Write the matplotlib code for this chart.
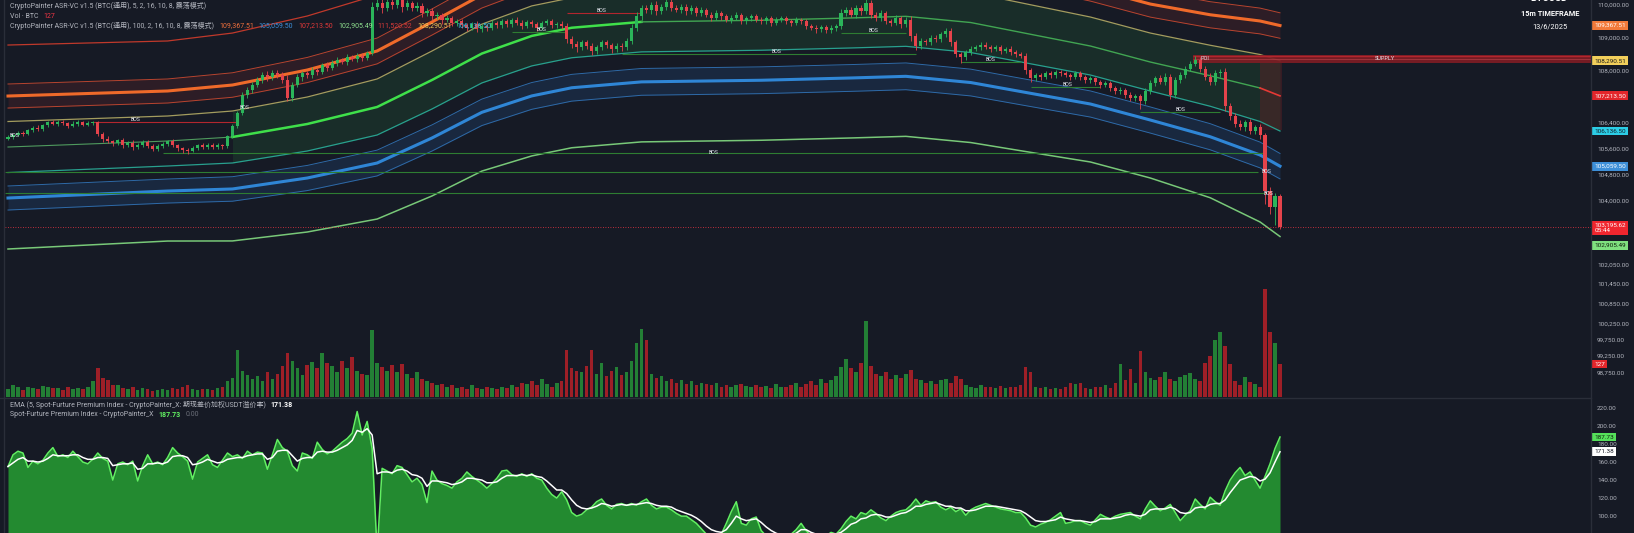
import numpy as np
import matplotlib
matplotlib.use("Agg")
import matplotlib.pyplot as plt
from matplotlib.lines import Line2D
from matplotlib.patches import Rectangle

plt.rcParams['font.family'] = ['Roboto', 'Noto Sans CJK SC', 'DejaVu Sans']

# ---------------------------------------------------------------- data
# BTCUSD 15m closes (candle open = previous close)
first_open = 105900
closes = [
    105950, 106020, 106080, 106050, 106160, 106230, 106200, 106310, 106400, 106350,
    106420, 106380, 106300, 106360, 106410, 106330, 106380, 106400, 106060, 105900,
    105820, 105760, 105850, 105700, 105780, 105640, 105720, 105810, 105690, 105600,
    105680, 105750, 105820, 105700, 105620, 105560, 105540, 105620, 105700, 105660,
    105720, 105650, 105700, 105680, 105980, 106280, 106700, 107250, 107380, 107550,
    107700, 107850, 107780, 107920, 107850, 107700, 107150, 107550, 107780, 107900,
    107850, 108000, 107950, 108150, 108080, 108230, 108300, 108250, 108400, 108350,
    108450, 108380, 108520, 109950, 110050, 109900, 110100, 110000, 110150, 109950,
    110050, 109900, 109980, 109750, 109820, 109650, 109700, 109550, 109600, 109450,
    109500, 109380, 109300, 109420, 109250, 109350, 109300, 109450, 109380, 109500,
    109400, 109550, 109450, 109350, 109480, 109400, 109300, 109450, 109520, 109380,
    109420, 109350, 108950, 108800, 108700, 108850, 108750, 108600, 108700, 108850,
    108780, 108650, 108750, 108700, 108900, 109300, 109650, 109900, 109850, 110000,
    109800, 109950, 110100, 109900, 109850, 109950, 109800, 109900, 109750, 109850,
    109700, 109600, 109750, 109650, 109550, 109600, 109700, 109500, 109600, 109650,
    109550, 109500, 109600, 109450, 109550, 109600, 109500, 109450, 109550, 109500,
    109350, 109300, 109250, 109320, 109230, 109280, 109350, 109750, 109850, 109700,
    109900, 109800, 110050, 109700, 109600, 109750, 109500, 109450, 109600, 109400,
    109550, 109050, 108750, 108900, 108850, 109000, 108950, 109100, 109200, 108850,
    108500, 108400, 108550, 108650, 108700, 108780, 108720, 108650, 108700, 108600,
    108650, 108550, 108500, 108450, 108000, 107750, 107850, 107800, 107900, 107850,
    107950, 107900, 107850, 107800, 107900, 107800, 107700, 107750, 107650, 107550,
    107600, 107450, 107350, 107400, 107250, 107150, 107200, 107050, 107350, 107600,
    107750, 107650, 107800, 107250, 107700, 107850, 108050, 108200, 108300, 108050,
    107800, 107650, 107900, 107950, 106900, 106600, 106350, 106250, 106400, 106150,
    106250, 106000, 104300, 103800, 104150, 103195.62,
]
# wick lengths above / below the body, in USD
wick_up = [
    60, 40, 70, 50, 40, 60, 80, 50, 40, 70,
    50, 60, 40, 80, 50, 40, 60, 50, 40, 60,
    70, 50, 40, 60, 50, 70, 40, 50, 60, 40,
    50, 60, 40, 70, 50, 40, 60, 50, 40, 60,
    50, 40, 60, 50, 40, 80, 60, 90, 120, 80,
    100, 90, 120, 80, 100, 90, 150, 80, 100, 70,
    90, 110, 70, 80, 100, 70, 90, 80, 100, 70,
    80, 90, 60, 150, 120, 200, 100, 150, 120, 90,
    100, 80, 120, 90, 70, 100, 80, 60, 90, 70,
    60, 80, 70, 50, 90, 60, 70, 80, 50, 60,
    80, 60, 70, 90, 50, 60, 80, 70, 50, 60,
    70, 80, 90, 100, 80, 70, 90, 80, 60, 70,
    80, 60, 70, 90, 80, 100, 120, 90, 110, 100,
    120, 90, 100, 80, 110, 90, 70, 100, 80, 90,
    70, 90, 80, 60, 70, 90, 80, 60, 70, 80,
    60, 80, 70, 60, 90, 70, 60, 80, 70, 60,
    70, 60, 80, 70, 60, 90, 70, 120, 100, 90,
    110, 90, 130, 100, 80, 90, 70, 80, 100, 70,
    90, 100, 80, 90, 70, 80, 90, 70, 100, 80,
    90, 70, 80, 90, 60, 80, 70, 60, 80, 70,
    60, 80, 70, 60, 90, 80, 70, 60, 80, 70,
    60, 70, 80, 60, 70, 80, 60, 70, 50, 60,
    70, 60, 80, 70, 60, 80, 70, 60, 90, 100,
    80, 90, 100, 80, 90, 100, 80, 90, 120, 100,
    90, 100, 110, 80, 120, 100, 90, 110, 80, 90,
    80, 100, 90, 120, 100, 60,
]
wick_dn = [
    50, 70, 40, 60, 50, 40, 70, 50, 60, 40,
    60, 50, 70, 40, 60, 50, 40, 70, 80, 90,
    60, 70, 50, 80, 60, 90, 50, 60, 70, 80,
    60, 50, 70, 60, 80, 90, 100, 60, 50, 70,
    60, 70, 50, 80, 60, 50, 60, 80, 100, 70,
    80, 90, 120, 70, 100, 80, 80, 90, 70, 100,
    80, 90, 100, 70, 90, 80, 100, 70, 90, 80,
    90, 100, 80, 60, 120, 150, 100, 130, 110, 160,
    120, 100, 90, 110, 80, 100, 90, 120, 80, 100,
    90, 80, 100, 70, 90, 80, 100, 70, 90, 80,
    70, 90, 80, 100, 70, 90, 100, 80, 70, 90,
    80, 100, 120, 110, 130, 90, 100, 120, 90, 80,
    100, 120, 90, 100, 80, 100, 90, 110, 100, 120,
    100, 90, 110, 100, 80, 90, 110, 80, 100, 90,
    80, 90, 70, 100, 80, 90, 70, 100, 80, 90,
    70, 90, 80, 100, 70, 80, 90, 100, 70, 80,
    90, 80, 100, 70, 90, 80, 70, 90, 100, 80,
    90, 100, 80, 100, 90, 80, 100, 90, 80, 100,
    90, 150, 120, 100, 90, 80, 100, 90, 80, 120,
    100, 180, 90, 80, 70, 90, 80, 100, 70, 90,
    80, 90, 100, 80, 110, 120, 80, 90, 70, 80,
    90, 80, 70, 90, 80, 100, 90, 80, 100, 90,
    80, 100, 90, 80, 100, 90, 80, 250, 90, 80,
    90, 80, 100, 120, 90, 80, 100, 90, 80, 100,
    110, 100, 90, 120, 140, 120, 100, 90, 110, 100,
    90, 120, 400, 200, 550, 60,
]
volumes = [
    30, 45, 38, 28, 40, 35, 30, 42, 38, 33,
    35, 28, 40, 32, 36, 30, 38, 60, 110, 72,
    65, 48, 45, 35, 30, 38, 28, 34, 30, 25,
    28, 32, 26, 35, 30, 40, 45, 30, 28, 32,
    30, 28, 35, 40, 60, 75, 180, 100, 85, 70,
    80, 60, 95, 70, 90, 120, 170, 140, 110, 85,
    125, 135, 110, 170, 130, 120, 95, 140, 110, 155,
    100, 90, 85, 258, 130, 115, 100, 125, 95, 128,
    90, 75, 95, 70, 60, 55, 45, 50, 40, 45,
    35, 40, 30, 45, 35, 30, 40, 35, 30, 38,
    35, 45, 40, 55, 50, 60, 45, 70, 50, 40,
    55, 60, 180, 110, 100, 95, 120, 180, 90, 130,
    80, 100, 115, 85, 95, 140, 208, 262, 220, 90,
    75, 80, 60, 70, 55, 65, 50, 60, 45, 55,
    50, 45, 55, 40, 48, 38, 45, 50, 42, 40,
    45, 38, 42, 35, 50, 40, 38, 45, 55, 40,
    50, 60, 45, 70, 55, 65, 80, 115, 145, 110,
    95, 130, 292, 120, 90, 80, 95, 70, 85, 75,
    90, 105, 70, 65, 55, 60, 50, 65, 70, 55,
    80, 70, 45, 40, 35, 45, 38, 40, 35, 42,
    35, 40, 38, 45, 115, 95, 40, 35, 38, 32,
    35, 30, 40, 55, 50, 55, 35, 30, 40, 38,
    45, 35, 55, 127, 65, 108, 55, 177, 96, 75,
    65, 77, 96, 70, 60, 77, 85, 92, 70, 60,
    130, 158, 220, 250, 196, 127, 60, 46, 77, 58,
    50, 40, 416, 250, 208, 127,
]
# Spot-future premium index and its 5-bar EMA
premium = [
    155, 168, 172, 170, 154, 161, 158, 162, 170, 176,
    166, 168, 165, 172, 166, 160, 158, 163, 170, 164,
    161, 140, 158, 160, 157, 161, 139, 156, 168, 158,
    160, 157, 165, 176, 170, 166, 161, 141, 160, 164,
    168, 157, 154, 162, 170, 166, 168, 164, 172, 168,
    171, 170, 152, 168, 185, 176, 172, 156, 150, 170,
    168, 164, 182, 174, 169, 172, 177, 182, 186, 192,
    216, 190, 205, 175, 60, 153, 150, 147, 156, 154,
    146, 138, 142, 135, 115, 150, 140, 136, 134, 131,
    138, 142, 149, 144, 140, 136, 131, 136, 142, 150,
    151, 146, 144, 147, 144, 147, 142, 140, 131, 124,
    120, 127, 118, 104, 100, 102, 107, 110, 116, 119,
    112, 108, 113, 114, 112, 114, 112, 116, 119, 112,
    108, 110, 110, 107, 103, 100, 100, 96, 92, 86,
    80, 77, 78, 80, 92, 105, 116, 92, 90, 97,
    99, 84, 78, 75, 76, 74, 78, 80, 85, 92,
    84, 78, 76, 80, 78, 82, 80, 86, 94, 100,
    97, 104, 102, 107, 103, 98, 95, 100, 104, 106,
    107, 112, 119, 112, 117, 115, 116, 110, 107, 110,
    105, 108, 101, 107, 110, 112, 114, 112, 110, 108,
    107, 106, 104, 104, 98, 90, 88, 91, 93, 96,
    100, 104, 92, 93, 95, 95, 92, 90, 96, 102,
    99, 97, 100, 102, 103, 104, 100, 97, 108, 117,
    111, 106, 109, 113, 104, 95, 101, 106, 119, 113,
    108, 121, 116, 112, 128, 140, 148, 154, 145, 149,
    140, 131, 144, 158, 175, 187.73,
]
premium_ema = [
    155, 159, 163, 165, 161, 161, 160, 161, 164, 168,
    167, 167, 167, 168, 168, 165, 163, 163, 165, 165,
    164, 156, 157, 158, 158, 159, 152, 153, 158, 158,
    159, 158, 160, 166, 167, 167, 165, 157, 158, 160,
    163, 161, 159, 160, 163, 164, 165, 165, 167, 168,
    169, 169, 163, 165, 172, 173, 173, 167, 161, 164,
    165, 165, 171, 172, 171, 171, 173, 176, 179, 184,
    195, 193, 197, 190, 147, 149, 149, 148, 151, 152,
    150, 146, 145, 142, 133, 139, 139, 138, 137, 135,
    136, 138, 142, 142, 141, 140, 137, 137, 138, 142,
    145, 145, 145, 146, 145, 146, 144, 143, 139, 134,
    129, 129, 125, 118, 112, 109, 108, 109, 111, 114,
    113, 111, 112, 113, 112, 113, 113, 114, 115, 114,
    112, 111, 111, 110, 107, 105, 103, 101, 98, 94,
    89, 85, 83, 82, 85, 92, 100, 97, 95, 96,
    97, 93, 88, 84, 81, 79, 79, 79, 81, 85,
    85, 82, 80, 80, 79, 80, 80, 82, 86, 91,
    93, 97, 98, 101, 102, 101, 99, 99, 101, 103,
    104, 107, 111, 111, 113, 114, 115, 113, 111, 111,
    109, 109, 106, 106, 107, 109, 111, 111, 111, 110,
    109, 108, 107, 106, 103, 99, 95, 94, 94, 95,
    96, 99, 97, 96, 95, 95, 94, 93, 94, 97,
    97, 97, 98, 99, 101, 102, 101, 100, 102, 107,
    108, 108, 108, 110, 108, 104, 103, 104, 109, 110,
    110, 113, 114, 114, 118, 126, 133, 140, 142, 144,
    143, 139, 141, 148, 160, 171.38,
]

# ASR-VC (100) band lines, sampled at these candle indices
band_idx = [0, 32, 45, 60, 74, 85, 95, 105, 113, 127, 151, 169, 180, 193, 205, 217, 229, 241, 251, 255]
band_top = [108771, 108895, 109138, 109660, 110305, 111252, 112110, 112726, 112976, 113156,
            113206, 113276, 113326, 113136, 112716, 112292, 111802, 111566, 111559, 111520.52]
band_orange_hi = [107577, 107731, 107921, 108391, 108984, 109876, 110715, 111298, 111548, 111728,
                  111778, 111848, 111898, 111708, 111313, 110916, 110426, 110098, 109902, 109758]
band_orange = [107209, 107363, 107546, 108006, 108589, 109476, 110310, 110888, 111138, 111318,
               111368, 111438, 111488, 111298, 110908, 110516, 110026, 109698, 109507, 109367.51]
band_orange_lo = [106841, 106995, 107171, 107621, 108194, 109076, 109905, 110478, 110728, 110908,
                  110958, 111028, 111078, 110888, 110503, 110116, 109626, 109298, 109112, 108978]
band_yellow = [106428, 106597, 106750, 107179, 107731, 108588, 109410, 109969, 110219, 110399,
               110449, 110519, 110569, 110379, 110004, 109628, 109138, 108764, 108481, 108290.51]
band_mid = [105647, 105831, 105954, 106352, 106873, 107700, 108510, 109050, 109300, 109480,
            109530, 109600, 109650, 109460, 109100, 108740, 108250, 107830, 107455, 107213.50]
band_cyan = [104866, 105065, 105158, 105525, 106015, 106812, 107610, 108131, 108381, 108561,
             108611, 108681, 108731, 108541, 108196, 107852, 107362, 106896, 106429, 106136.50]
band_blue_hi = [104453, 104667, 104737, 105083, 105552, 106324, 107115, 107622, 107872, 108052,
                108102, 108172, 108222, 108032, 107697, 107364, 106874, 106362, 105798, 105450]
band_blue = [104085, 104299, 104362, 104698, 105157, 105924, 106710, 107212, 107462, 107642,
             107692, 107762, 107812, 107622, 107292, 106964, 106474, 105962, 105403, 105059.50]
band_blue_lo = [103717, 103931, 103987, 104313, 104762, 105524, 106305, 106802, 107052, 107232,
                107282, 107352, 107402, 107212, 106887, 106564, 106074, 105562, 105008, 104670]
band_bottom = [102523, 102767, 102770, 103044, 103441, 104148, 104910, 105374, 105624, 105804,
               105854, 105924, 105974, 105784, 105484, 105188, 104698, 104094, 103351, 102905.49]

# break-of-structure segments: level, from, to, label position
bos_level = [106413, 109752, 109170, 108496, 109140, 108250, 107485, 106720]
bos_from = [17, 112, 101, 123, 167, 191, 205, 227]
bos_to = [46, 127, 112, 182, 180, 203, 219, 243]
bos_label = [25.5, 119, 107, 154, 173.5, 197, 212.5, 235]
bos_bear = [True, True, False, False, False, False, False, False]
# long structure levels that were broken by the final sell-off
swing_level = [105464, 104882, 104238]
swing_from = [31, -1, -1]
swing_to = [251.5, 250.5, 252]
swing_label = [141.5, 252.4, 252.8]
# standalone labels
bos_extra_idx = [0.4, 46.5]
bos_extra_price = [105990, 106843]

supply_top, supply_bottom, supply_start = 108480, 108220, 237.5
premium_zone = (251, 255.5, 106168, 108220)

price_ticks = [110000, 109000, 108000, 106400, 105600, 104800, 104000,
               102050, 101450, 100850, 100250, 99750, 99250, 98750]
premium_ticks = [220, 200, 180, 160, 140, 120, 100]

# ---------------------------------------------------------------- layout
W, H = 1634, 533
BG = '#161a25'
TXT = '#b2b5be'
SEP = '#2a2e39'
UP, DN = '#2bb55a', '#e5434b'
VOL_UP, VOL_DN = '#237f35', '#9e1f27'
PX_LEFT, PX_RIGHT, PX_SPLIT = 5, 1591, 397
PX_FIRST, PX_LAST = 8, 1280

fig = plt.figure(figsize=(W / 100, H / 100), dpi=100, facecolor=BG)


def box(x0, y0, x1, y1):
    return [x0 / W, 1 - y1 / H, (x1 - x0) / W, (y1 - y0) / H]


ax = fig.add_axes(box(PX_LEFT, 0, PX_RIGHT, PX_SPLIT))
axp = fig.add_axes(box(PX_LEFT, PX_SPLIT + 1, PX_RIGHT, H))
for a in (ax, axp):
    a.set_facecolor(BG)
    for s in a.spines.values():
        s.set_visible(False)
    a.tick_params(axis='x', bottom=False, labelbottom=False)

n = len(closes)
idx = np.arange(n)
step = (PX_LAST - PX_FIRST) / (n - 1)
xlim = ((PX_LEFT - PX_FIRST) / step, (PX_RIGHT - PX_FIRST) / step)
ax.set_xlim(*xlim)
axp.set_xlim(*xlim)
ax.set_ylim(97990, 110150)
axp.set_ylim(81.3, 231)

# ---------------------------------------------------------------- bands
bi = np.array(band_idx)
ax.fill_between(bi, band_orange_lo, band_orange_hi, color='#8a2d2d', alpha=0.20, lw=0, zorder=1)
ax.fill_between(bi[2:], band_cyan[2:], band_yellow[2:], color='#2f9a45', alpha=0.15, lw=0, zorder=1)
ax.fill_between(bi, band_blue_lo, band_blue_hi, color='#2a6fc0', alpha=0.17, lw=0, zorder=1)

ax.plot(bi, band_top, color='#c0392b', lw=0.9, zorder=2)
ax.plot(bi, band_orange_hi, color='#b8442f', lw=0.7, zorder=2)
ax.plot(bi, band_orange_lo, color='#b8442f', lw=0.7, zorder=2)
ax.plot(bi, band_orange, color='#f06a2a', lw=2.2, zorder=2)
ax.plot(bi, band_yellow, color='#a39c5e', lw=0.9, zorder=2)
ax.plot(bi[:3], band_mid[:3], color='#4f9a5e', lw=0.8, zorder=2)
ax.plot(bi[2:10], band_mid[2:10], color='#3fe04a', lw=1.8, zorder=2)
ax.plot(bi[9:19], band_mid[9:19], color='#41a552', lw=1.0, zorder=2)
ax.plot(bi[18:], band_mid[18:], color='#e53935', lw=1.2, zorder=2)
ax.plot(bi, band_cyan, color='#28a08e', lw=0.9, zorder=2)
ax.plot(bi, band_blue_hi, color='#2e6aa8', lw=0.7, zorder=2)
ax.plot(bi, band_blue_lo, color='#2e6aa8', lw=0.7, zorder=2)
ax.plot(bi, band_blue, color='#2f86d6', lw=2.2, zorder=2)
ax.plot(bi, band_bottom, color='#78c878', lw=1.1, zorder=2)

# ---------------------------------------------------------------- structure
for lv, a0, a1, lab in zip(swing_level, swing_from, swing_to, swing_label):
    ax.hlines(lv, max(a0, xlim[0]), a1, color='#2e7d32', lw=0.8, zorder=3)
    ax.text(lab, lv, 'BOS', color='#e0e3eb', fontsize=3.8, ha='center', va='center', zorder=8)
for lv, a0, a1, lab, bear in zip(bos_level, bos_from, bos_to, bos_label, bos_bear):
    ax.hlines(lv, a0, a1, color='#b3262e' if bear else '#2e7d32', lw=0.8, zorder=3)
    ax.text(lab, lv + 70, 'BOS', color='#e0e3eb', fontsize=3.8, ha='center', va='center', zorder=8)
for xi, pv in zip(bos_extra_idx, bos_extra_price):
    ax.text(xi, pv, 'BOS', color='#e0e3eb', fontsize=3.8, ha='left', va='center', zorder=8)

ax.add_patch(Rectangle((supply_start, supply_bottom), xlim[1] - supply_start,
                       supply_top - supply_bottom, fc='#7e1d24', ec='none', alpha=0.92, zorder=3))
ax.hlines(supply_top - 40, supply_start, xlim[1], color='#b3262e', lw=1.0, zorder=3)
ax.hlines((supply_top + supply_bottom) / 2 - 20, supply_start, xlim[1], color='#c0474d', lw=0.4, zorder=3)
z0, z1, zb, zt = premium_zone
ax.add_patch(Rectangle((z0, zb), z1 - z0, zt - zb, fc='#8b1e24', ec='none', alpha=0.28, zorder=1))
ax.text(supply_start + 1.5, (supply_top + supply_bottom) / 2, 'POI', color='#e0e3eb',
        fontsize=4.0, ha='left', va='center', zorder=8)
ax.text((1385 - PX_FIRST) / step, (supply_top + supply_bottom) / 2, 'SUPPLY', color='#e0e3eb',
        fontsize=4.0, ha='center', va='center', zorder=8)

ax.axhline(closes[-1], color='#f23645', lw=0.6, ls=(0, (1, 2)), zorder=4)

# ---------------------------------------------------------------- candles
c = np.array(closes, dtype=float)
o = np.array([first_open] + closes[:-1], dtype=float)
up = c >= o
hi = np.maximum(o, c) + np.array(wick_up)
lo = np.minimum(o, c) - np.array(wick_dn)
cols = np.where(up, UP, DN)
ax.vlines(idx, lo, hi, colors=cols, lw=0.6, zorder=5)
ax.bar(idx, np.maximum(np.abs(c - o), 20), bottom=np.minimum(o, c), width=0.62,
       color=cols, lw=0, zorder=6)

# ---------------------------------------------------------------- volume
axv = ax.twinx()
axv.set_xlim(*xlim)
axv.set_ylim(0, 1530)
axv.axis('off')
axv.bar(idx, volumes, width=0.72, color=np.where(up, VOL_UP, VOL_DN), lw=0)

# ---------------------------------------------------------------- premium pane
axp.fill_between(idx, premium, 0, color='#238a30', lw=0, zorder=1)
axp.plot(idx, premium, color='#62f062', lw=1.1, zorder=2)
axp.plot(idx, premium_ema, color='white', lw=1.1, zorder=3)

# ---------------------------------------------------------------- price scales
ax.yaxis.tick_right()
ax.set_yticks(price_ticks)
ax.set_yticklabels([f"{v:,.2f}" for v in price_ticks])
ax.tick_params(axis='y', length=0, pad=4.3, labelsize=4.6, labelcolor=TXT)
axp.yaxis.tick_right()
axp.set_yticks(premium_ticks)
axp.set_yticklabels([f"{v:.2f}" for v in premium_ticks])
axp.tick_params(axis='y', length=0, pad=4.3, labelsize=4.6, labelcolor=TXT)


def tag(axis, value, text, fc, tc, dy=0.0, va='center'):
    axis.annotate(text, xy=(1, value), xycoords=('axes fraction', 'data'),
                  xytext=(2.4, dy), textcoords='offset points', ha='left', va=va,
                  fontsize=4.6, color=tc, annotation_clip=False, zorder=20, linespacing=1.1,
                  bbox=dict(boxstyle='square,pad=0.3', fc=fc, ec='none'))


tag(ax, band_orange[-1], f"{band_orange[-1]:,.2f}", '#f27a3a', 'white')
tag(ax, band_yellow[-1], f"{band_yellow[-1]:,.2f}", '#f2cf5b', '#1a1a1a')
tag(ax, band_mid[-1], f"{band_mid[-1]:,.2f}", '#e3262b', 'white')
tag(ax, band_cyan[-1], f"{band_cyan[-1]:,.2f}", '#2ccde6', '#10202a')
tag(ax, band_blue[-1], f"{band_blue[-1]:,.2f}", '#3d8fd8', 'white')
tag(ax, closes[-1], f"{closes[-1]:,.2f}\n05:44", '#f0262e', 'white', dy=3.2, va='top')
tag(ax, band_bottom[-1], f"{band_bottom[-1]:,.2f}", '#7fe07f', '#10200f', dy=-6.2)
tag(axv, volumes[-1], f"{volumes[-1]}", '#e3262b', 'white')
tag(axp, premium[-1], f"{premium[-1]:.2f}", '#55e05a', '#10200f')
tag(axp, premium_ema[-1], f"{premium_ema[-1]:.2f}", 'white', '#131722')

# ---------------------------------------------------------------- separators
fig.add_artist(Line2D([PX_RIGHT / W] * 2, [0, 1], color=SEP, lw=1.0))
fig.add_artist(Line2D([0, PX_RIGHT / W], [1 - (PX_SPLIT + 0.5) / H] * 2, color=SEP, lw=1.0))
fig.add_artist(Line2D([4 / W] * 2, [0, 1], color=SEP, lw=1.0))

# ---------------------------------------------------------------- legends
renderer = fig.canvas.get_renderer()
LEG_SIZE = 5.0


def ftext(x, y, s, color=TXT, size=LEG_SIZE, weight='normal', ha='left'):
    return fig.text(x / W, 1 - y / H, s, color=color, fontsize=size, fontweight=weight,
                    ha=ha, va='center')


def chain(x, y, parts, gap=5):
    """Write text pieces one after another on a legend row."""
    for s, col, wt in parts:
        t = ftext(x, y, s, color=col, weight=wt)
        x = t.get_window_extent(renderer).x1 + gap


chain(10, 6, [("CryptoPainter ASR-VC v1.5 (BTC(通用), 5, 2, 16, 10, 8, 震荡模式)", TXT, 'normal')])
chain(10, 16, [("Vol · BTC", TXT, 'normal'), (f"{volumes[-1]}", '#f23645', 'normal')])
chain(10, 26, [
    ("CryptoPainter ASR-VC v1.5 (BTC(通用), 100, 2, 16, 10, 8, 震荡模式)", TXT, 'normal'),
    (f"{band_orange[-1]:,.2f}", '#f0703c', 'normal'),
    (f"{band_blue[-1]:,.2f}", '#3d8fd9', 'normal'),
    (f"{band_mid[-1]:,.2f}", '#e5393a', 'normal'),
    (f"{band_bottom[-1]:,.2f}", '#8fe08f', 'normal'),
    (f"{band_top[-1]:,.2f}", '#d83a3a', 'normal'),
    (f"{band_yellow[-1]:,.2f}", '#f0c95a', 'normal'),
    (f"{band_cyan[-1]:,.2f}", '#3fb8dc', 'normal'),
])
chain(10, 405, [
    ("EMA (5, Spot-Furture Premium Index - CryptoPainter_X: 期现差价加权USDT溢价率)", TXT, 'normal'),
    (f"{premium_ema[-1]:.2f}", 'white', 'bold'),
])
chain(10, 415, [
    ("Spot-Furture Premium Index - CryptoPainter_X", TXT, 'normal'),
    (f"{premium[-1]:.2f}", '#62f062', 'bold'),
    ("0.00", '#6a6e78', 'normal'),
])

ftext(1549, -2, "BTCUSD", color='white', size=7.0, weight='bold', ha='center')
ftext(1550, 14, "15m TIMEFRAME", color='white', size=5.3, weight='bold', ha='center')
ftext(1550, 27, "13/6/2025", color='white', size=5.3, ha='center')

fig.savefig('out.png', dpi=100, facecolor=BG)
